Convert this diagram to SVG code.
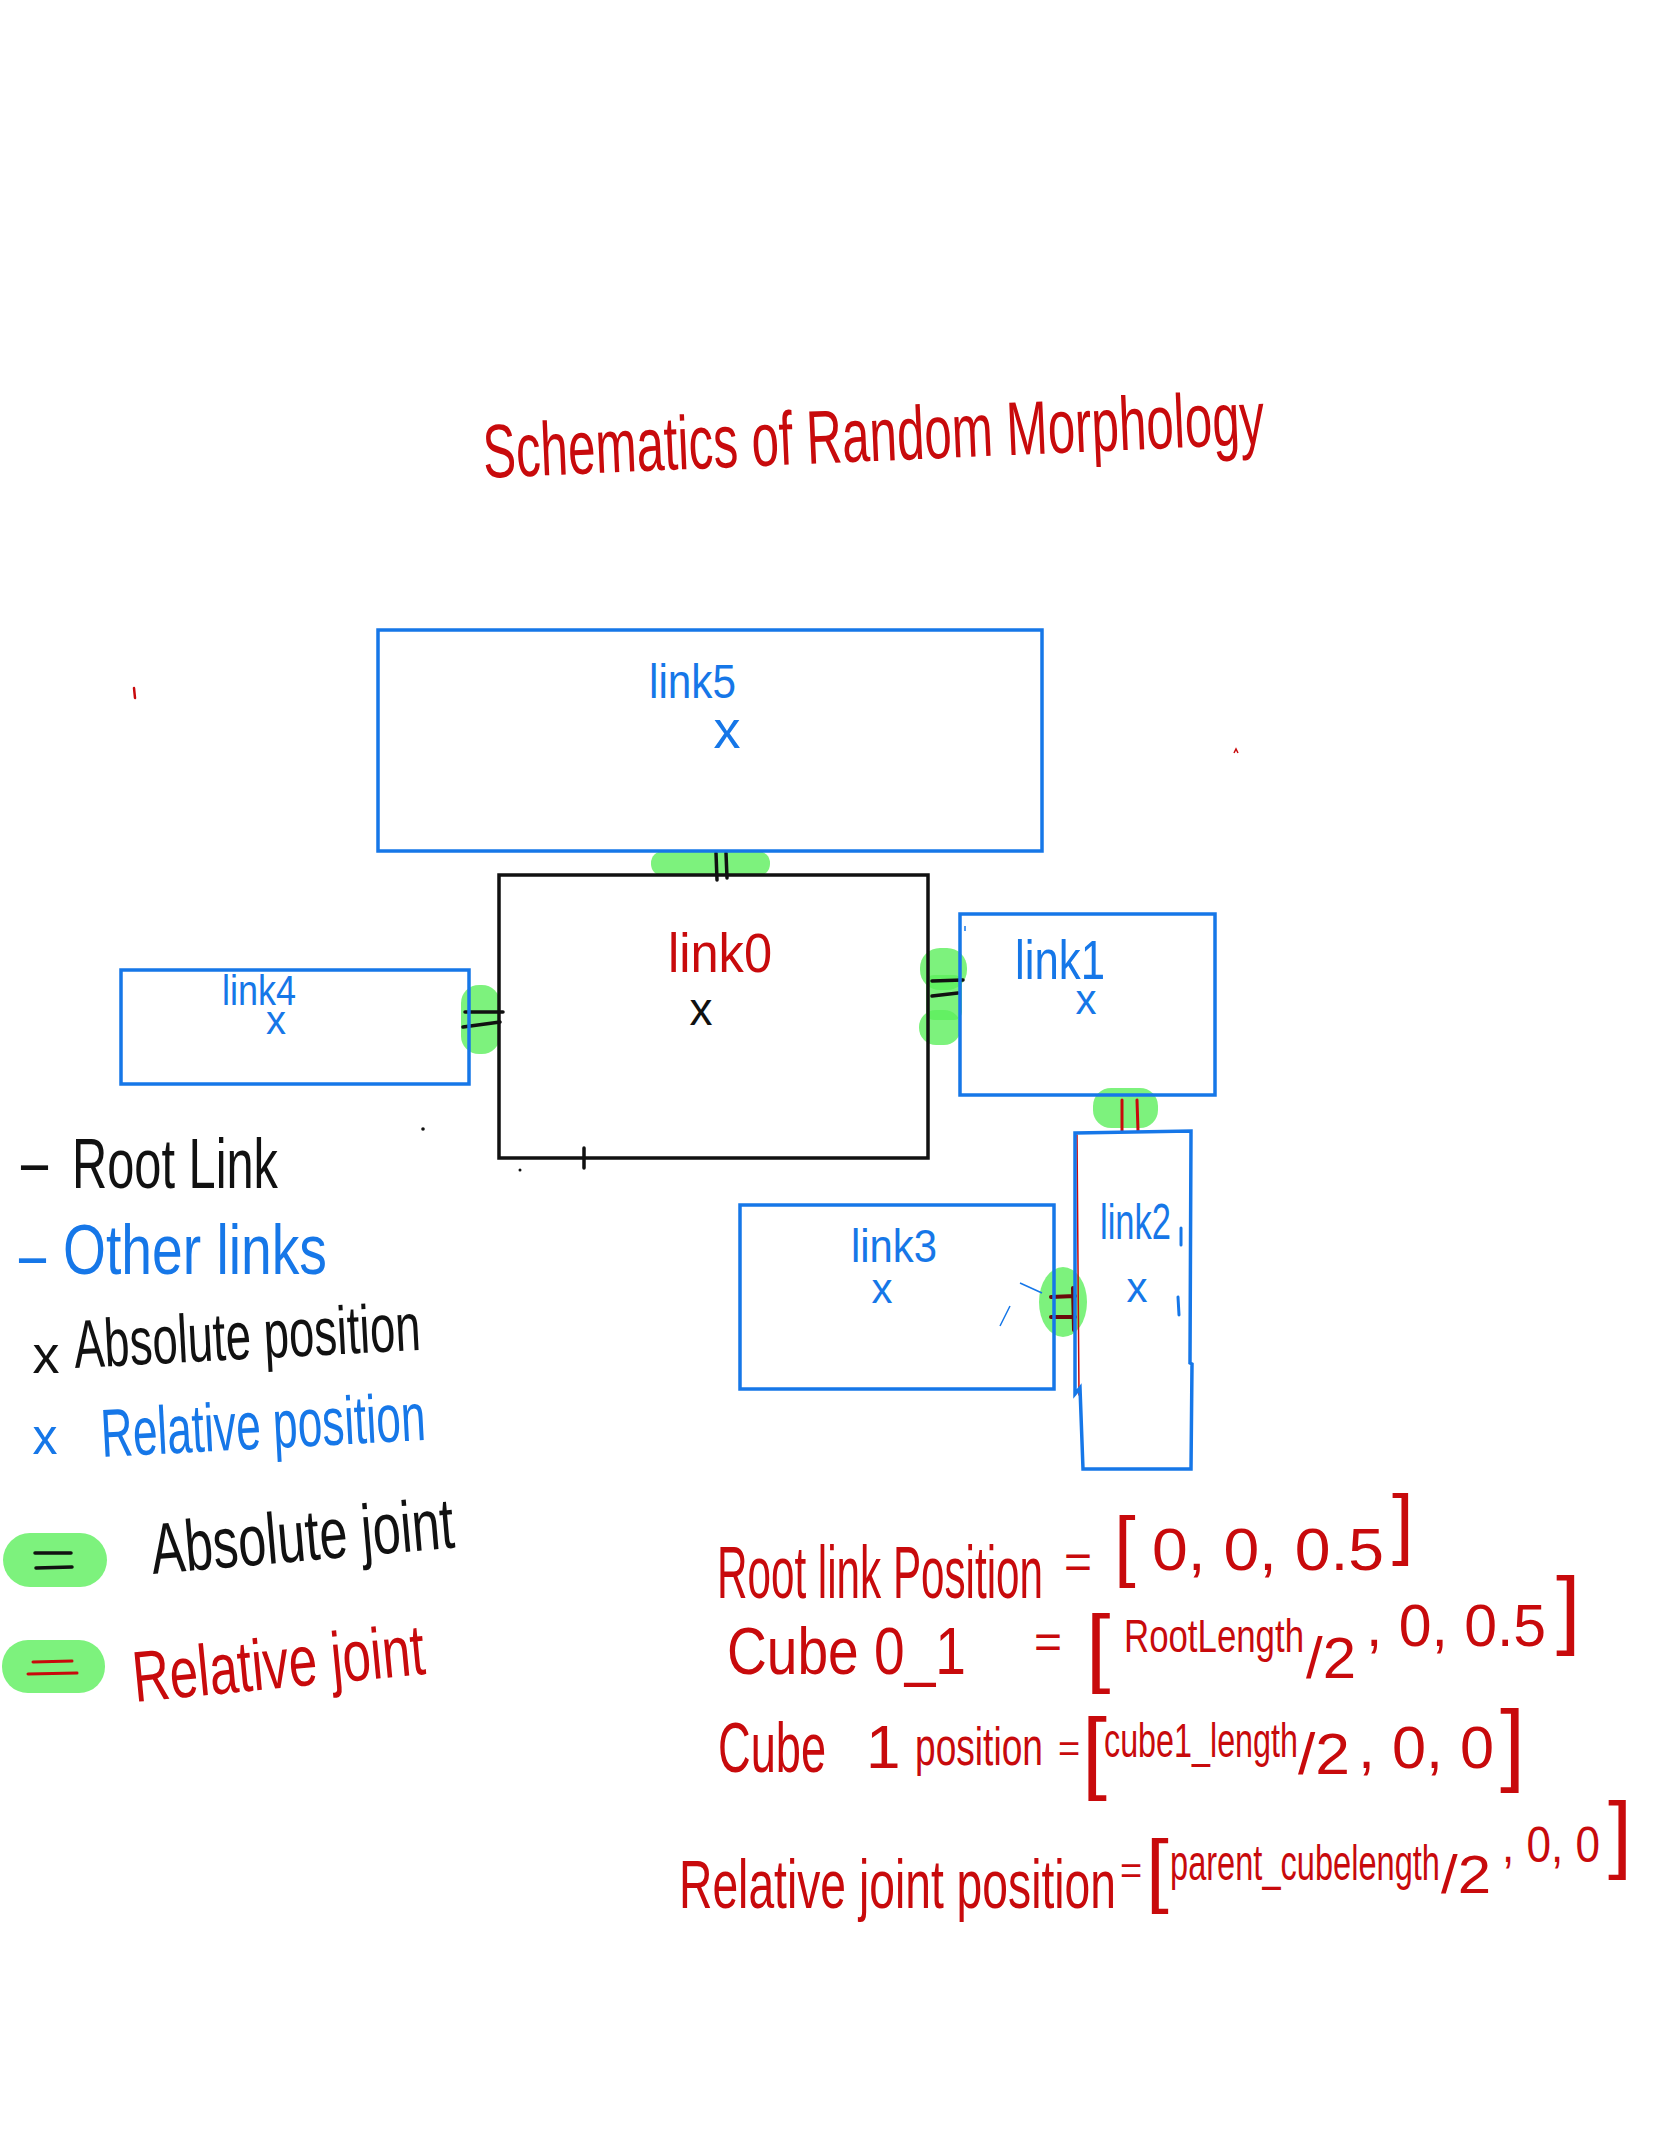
<svg xmlns="http://www.w3.org/2000/svg" width="1668" height="2154" viewBox="0 0 1668 2154">
<style>
text{font-family:"Liberation Sans Narrow","Liberation Sans",sans-serif;}
.r{fill:#c80a0c}
.b{fill:#1677e8}
.k{fill:#111}
.box{fill:none;stroke:#1677e8;stroke-width:3.5}
.root{fill:none;stroke:#111;stroke-width:3.5}
.jt{fill:#5cef5c;fill-opacity:0.8}
.mk{stroke:#111;stroke-width:3.5;stroke-linecap:round;fill:none}
.mr{stroke:#c80a0c;stroke-width:3;stroke-linecap:round;fill:none}
.md{stroke:#6a0a0a;stroke-width:4;stroke-linecap:round;fill:none}
.thin{stroke-width:1.5}
</style>
<rect width="1668" height="2154" fill="#fff"/>

<g id="title">
<text class="r" x="484" y="478" font-size="76" textLength="782" lengthAdjust="spacingAndGlyphs" transform="rotate(-2.5 484 478)">Schematics of Random Morphology</text>
</g>

<g id="connectors">
<!-- joint link5-link0 -->
<rect class="jt" x="651" y="851" width="119" height="25" rx="12"/>
<path class="mk" d="M716,853 L717,880 M726,853 L727,878"/>
<!-- joint link4-link0 -->
<rect class="jt" x="461" y="985" width="39" height="69" rx="18"/>
<path class="mk" d="M465,1012 L503,1012 M463,1027 L500,1022"/>
<!-- joint link0-link1 -->
<rect class="jt" x="920" y="948" width="47" height="42" rx="20"/>
<rect class="jt" x="926" y="975" width="36" height="45" rx="8"/>
<rect class="jt" x="919" y="1010" width="42" height="35" rx="17"/>
<path class="mk" d="M932,981 L963,980 M932,996 L958,993"/>
<!-- joint link1-link2 -->
<rect class="jt" x="1093" y="1088" width="65" height="40" rx="18"/>
<path class="mr" d="M1122,1100 L1122,1131 M1137,1100 L1138,1131"/>
<!-- joint link3-link2 -->
<ellipse class="jt" cx="1063" cy="1302" rx="24" ry="35"/>
<path class="md" d="M1051,1297 L1075,1296 M1051,1317 L1075,1317 M1073,1288 L1074,1330"/>
</g>

<g id="link5">
<rect class="box" x="378" y="630" width="664" height="221"/>
<text class="b" x="649" y="698" font-size="48" textLength="87" lengthAdjust="spacingAndGlyphs">link5</text>
<text class="b" x="727" y="748" font-size="54" text-anchor="middle">x</text>
</g>

<g id="link0">
<rect class="root" x="499" y="875" width="429" height="283"/>
<path class="mk" d="M584,1148 L584,1168"/>
<text class="r" x="668" y="972" font-size="56" textLength="104" lengthAdjust="spacingAndGlyphs">link0</text>
<text class="k" x="701" y="1025" font-size="46" text-anchor="middle">x</text>
</g>

<g id="link4">
<rect class="box" x="121" y="970" width="348" height="114"/>
<text class="b" x="222" y="1005" font-size="42" textLength="74" lengthAdjust="spacingAndGlyphs">link4</text>
<text class="b" x="276" y="1034" font-size="40" text-anchor="middle">x</text>
</g>

<g id="link1">
<rect class="box" x="960" y="914" width="255" height="181"/>
<text class="b" x="1015" y="979" font-size="56" textLength="90" lengthAdjust="spacingAndGlyphs">link1</text>
<text class="b" x="1086" y="1014" font-size="42" text-anchor="middle">x</text>
</g>

<g id="link2">
<path class="mr thin" d="M1077,1135 L1079,1395"/>
<path class="box" d="M1075,1133 L1191,1131 L1190,1363 L1192,1364 L1191,1469 L1083,1469 L1080,1388 L1075,1394 L1075,1133 Z"/>
<text class="b" x="1100" y="1239" font-size="50" textLength="71" lengthAdjust="spacingAndGlyphs">link2</text>
<path d="M1181,1228 L1181,1245 M1178,1297 L1179,1315" stroke="#1677e8" stroke-width="3" stroke-linecap="round"/>
<text class="b" x="1137" y="1302" font-size="42" text-anchor="middle">x</text>
</g>

<g id="link3">
<rect class="box" x="740" y="1205" width="314" height="184"/>
<text class="b" x="851" y="1262" font-size="46" textLength="86" lengthAdjust="spacingAndGlyphs">link3</text>
<text class="b" x="882" y="1303" font-size="42" text-anchor="middle">x</text>
<path d="M1020,1283 L1042,1293 M1010,1306 L1000,1326" stroke="#1677e8" stroke-width="1.5" fill="none"/>
</g>

<g id="legend">
<text class="k" x="16" y="1183" font-size="60" textLength="37" lengthAdjust="spacingAndGlyphs">-</text>
<text class="k" x="72" y="1188" font-size="70" textLength="206" lengthAdjust="spacingAndGlyphs">Root Link</text>
<text class="b" x="14" y="1276" font-size="60" textLength="37" lengthAdjust="spacingAndGlyphs">-</text>
<text class="b" x="63" y="1274" font-size="70" textLength="264" lengthAdjust="spacingAndGlyphs">Other links</text>
<text class="k" x="46" y="1373" font-size="54" text-anchor="middle">x</text>
<text class="k" x="75" y="1368" font-size="68" textLength="347" lengthAdjust="spacingAndGlyphs" transform="rotate(-3 75 1368)">Absolute position</text>
<text class="b" x="45" y="1454" font-size="50" text-anchor="middle">x</text>
<text class="b" x="102" y="1457" font-size="68" textLength="325" lengthAdjust="spacingAndGlyphs" transform="rotate(-3 102 1457)">Relative position</text>
<rect class="jt" x="3" y="1533" width="104" height="54" rx="27"/>
<path class="mk" d="M35,1553 L71,1553 M36,1568 L72,1567"/>
<text class="k" x="153" y="1574" font-size="72" textLength="304" lengthAdjust="spacingAndGlyphs" transform="rotate(-5 153 1574)">Absolute joint</text>
<rect class="jt" x="2" y="1640" width="103" height="53" rx="26"/>
<path class="mr" d="M33,1662 L72,1661 M28,1674 L77,1673"/>
<text class="r" x="135" y="1702" font-size="72" textLength="293" lengthAdjust="spacingAndGlyphs" transform="rotate(-5.5 135 1702)">Relative joint</text>
</g>

<g id="equations">
<text class="r" font-size="60"><tspan x="717" y="1598" font-size="74" textLength="326" lengthAdjust="spacingAndGlyphs">Root link Position</tspan><tspan x="1064" y="1578" font-size="48">=</tspan><tspan x="1114" y="1572" font-size="78">[</tspan><tspan x="1152" y="1570" font-size="60" textLength="232" lengthAdjust="spacingAndGlyphs">0, 0, 0.5</tspan><tspan x="1392" y="1550" font-size="78">]</tspan></text>

<text class="r" font-size="60"><tspan x="727" y="1674" font-size="66" textLength="239" lengthAdjust="spacingAndGlyphs">Cube 0_1</tspan><tspan x="1034" y="1658" font-size="48">=</tspan><tspan x="1086" y="1676" font-size="88">[</tspan><tspan x="1124" y="1652" font-size="46" textLength="180" lengthAdjust="spacingAndGlyphs">RootLength</tspan><tspan x="1306" y="1678" font-size="58" textLength="50" lengthAdjust="spacingAndGlyphs">/2</tspan><tspan x="1366" y="1646" font-size="60" textLength="180" lengthAdjust="spacingAndGlyphs">, 0, 0.5</tspan><tspan x="1556" y="1638" font-size="88">]</tspan></text>

<text class="r" font-size="60"><tspan x="718" y="1772" font-size="70" textLength="108" lengthAdjust="spacingAndGlyphs">Cube</tspan><tspan x="866" y="1768" font-size="62">1</tspan><tspan x="915" y="1765" font-size="54" textLength="128" lengthAdjust="spacingAndGlyphs">position</tspan><tspan x="1058" y="1762" font-size="38">=</tspan><tspan x="1082" y="1782" font-size="90">[</tspan><tspan x="1104" y="1757" font-size="48" textLength="194" lengthAdjust="spacingAndGlyphs">cube1_length</tspan><tspan x="1298" y="1774" font-size="58" textLength="52" lengthAdjust="spacingAndGlyphs">/2</tspan><tspan x="1358" y="1768" font-size="60" textLength="136" lengthAdjust="spacingAndGlyphs">, 0, 0</tspan><tspan x="1500" y="1774" font-size="90">]</tspan></text>

<text class="r" font-size="60"><tspan x="679" y="1908" font-size="68" textLength="437" lengthAdjust="spacingAndGlyphs">Relative joint position</tspan><tspan x="1120" y="1884" font-size="38">=</tspan><tspan x="1146" y="1897" font-size="82">[</tspan><tspan x="1170" y="1880" font-size="50" textLength="270" lengthAdjust="spacingAndGlyphs">parent_cubelength</tspan><tspan x="1441" y="1893" font-size="54" textLength="50" lengthAdjust="spacingAndGlyphs">/2</tspan><tspan x="1502" y="1862" font-size="50" textLength="98" lengthAdjust="spacingAndGlyphs">, 0, 0</tspan><tspan x="1608" y="1862" font-size="86">]</tspan></text>
</g>

<g id="marks">
<path d="M134,688 L135,698" stroke="#c80a0c" stroke-width="2.5" stroke-linecap="round"/>
<path d="M1234,753 L1236,749 L1238,753" stroke="#c80a0c" stroke-width="1.5" fill="none"/>
<circle cx="423" cy="1129" r="1.8" fill="#111"/>
<circle cx="520" cy="1170" r="1.5" fill="#111"/>
<path d="M965,926 L965,931" stroke="#1677e8" stroke-width="1.5"/>
</g>
</svg>
